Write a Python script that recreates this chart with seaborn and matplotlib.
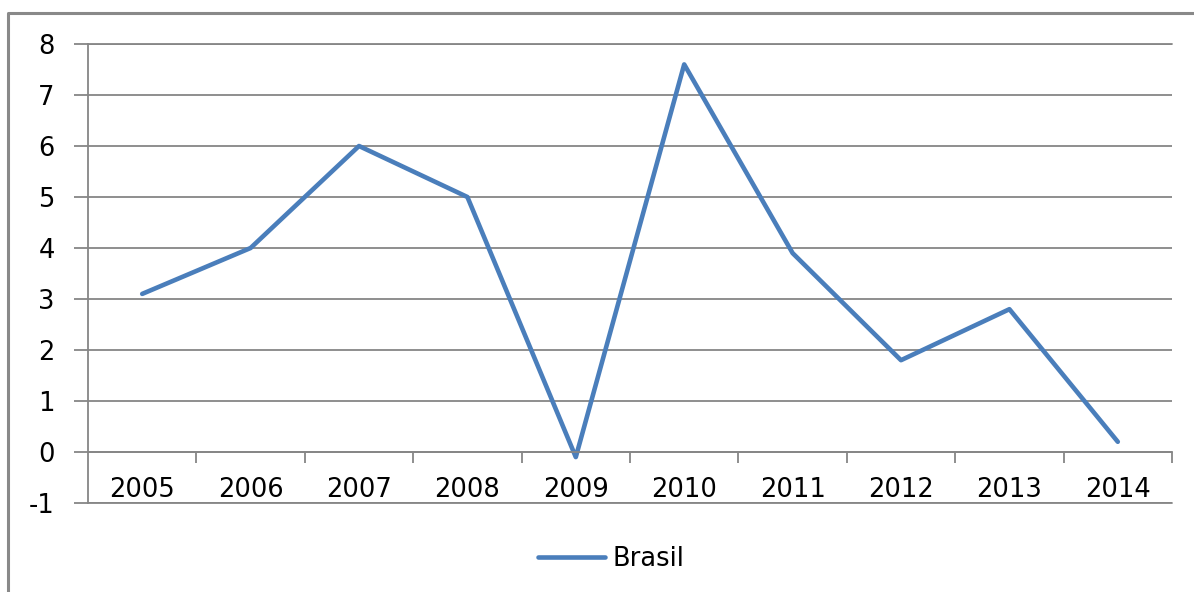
import matplotlib
matplotlib.use("Agg")
import matplotlib.pyplot as plt
import seaborn as sns
import pandas as pd
import numpy as np
from matplotlib.lines import Line2D

years = ["2005", "2006", "2007", "2008", "2009", "2010", "2011", "2012", "2013", "2014"]
brasil = [3.1, 4.0, 6.0, 5.0, -0.1, 7.6, 3.9, 1.8, 2.8, 0.2]
yticks = [-1, 0, 1, 2, 3, 4, 5, 6, 7, 8]
series_name = "Brasil"

sns.set_style("white")
plt.rcParams['font.family'] = ['DejaVu Sans']

GRAY = "#868686"
BLUE = "#4A7EBB"
FS = 18.5

fig = plt.figure(figsize=(11.94, 5.92), dpi=100)
ax = fig.add_axes([88/1194, 1-503/592, (1172-88)/1194, (503-44)/592])

df = pd.DataFrame({"year": years, "value": brasil})
df["idx"] = np.arange(len(years))
sns.lineplot(data=df, x="idx", y="value", ax=ax, color=BLUE, linewidth=3.3,
             sort=False, label=series_name, legend=False)

ax.set_xlim(-0.5, len(years) - 0.5)
ax.set_ylim(-1, 8)
ax.set_xlabel("")
ax.set_ylabel("")

# y axis
ax.set_yticks(yticks)
ax.set_yticklabels([str(v) for v in yticks], fontsize=FS, color="black")
ax.tick_params(axis="y", which="major", length=10, width=1.3, color=GRAY,
               pad=14, left=True, labelcolor="black")
ax.grid(axis="y", color=GRAY, linewidth=1.3)
ax.grid(axis="x", visible=False)
ax.set_axisbelow(True)

# x axis at zero
ax.spines["bottom"].set_position(("data", 0))
ax.spines["bottom"].set_color(GRAY)
ax.spines["bottom"].set_linewidth(1.3)
ax.spines["left"].set_color(GRAY)
ax.spines["left"].set_linewidth(1.3)
ax.spines["top"].set_visible(False)
ax.spines["right"].set_visible(False)
ax.set_xticks(np.arange(len(years)))
ax.set_xticklabels(years, fontsize=FS, color="black")
ax.set_xticks(np.arange(len(years)) + 0.5, minor=True)
ax.tick_params(axis="x", which="major", length=0, pad=18, bottom=True,
               labelcolor="black")
ax.tick_params(axis="x", which="minor", length=8, width=1.3, color=GRAY,
               direction="out", bottom=True)
ax.axhline(-1, color=GRAY, linewidth=1.3, clip_on=False, zorder=0.5)
ax.axhline(8, color=GRAY, linewidth=1.3, clip_on=False, zorder=0.5)

# legend
handle = Line2D([], [], color=BLUE, linewidth=3.3)
leg = fig.legend([handle], [series_name], loc="center",
                 bbox_to_anchor=(611/1194, 1-559/592), frameon=False,
                 fontsize=FS, handlelength=2.6, handletextpad=0.3)
for t in leg.get_texts():
    t.set_color("black")

# outer chart border (left and top)
fig.add_artist(Line2D([8/1194, 8/1194, 1.0], [0.0, 1-13/592, 1-13/592],
                      transform=fig.transFigure, color="#898989", linewidth=2.2))

fig.savefig("out.png", dpi=100)
